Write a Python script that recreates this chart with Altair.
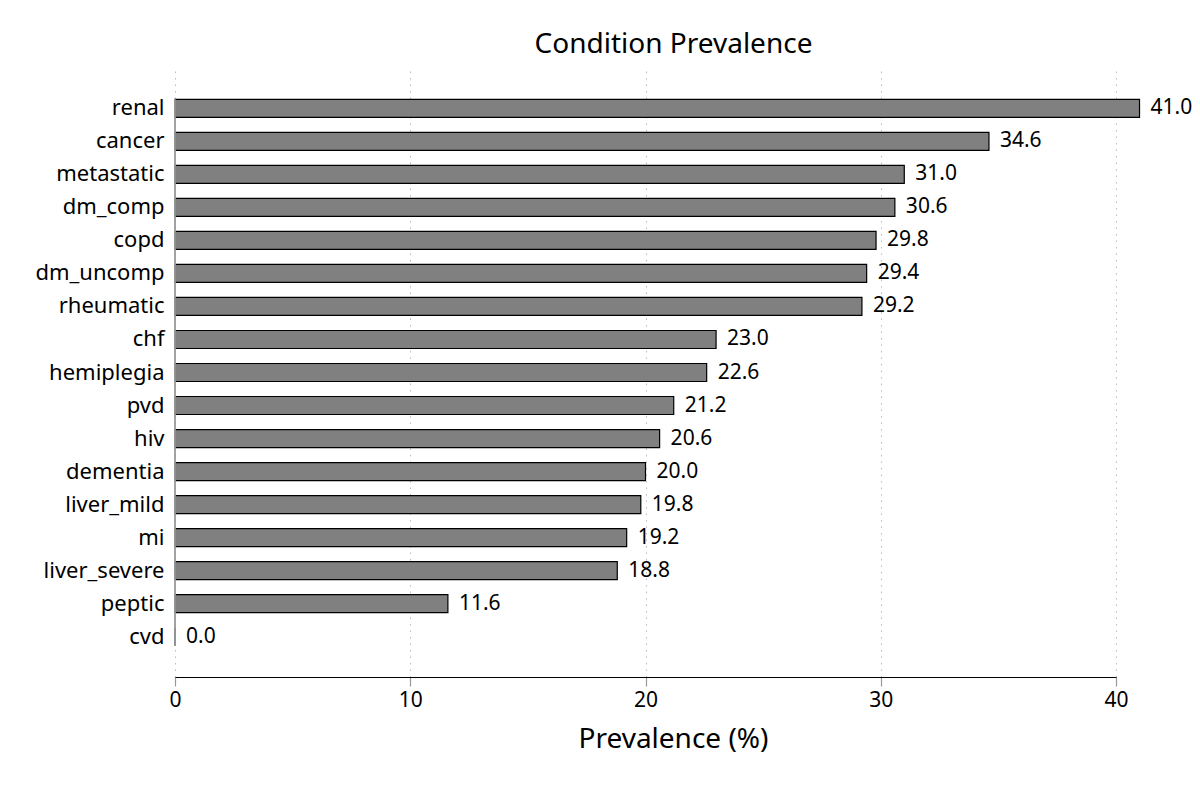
import altair as alt
import pandas as pd

conditions = ["renal", "cancer", "metastatic", "dm_comp", "copd", "dm_uncomp",
              "rheumatic", "chf", "hemiplegia", "pvd", "hiv", "dementia",
              "liver_mild", "mi", "liver_severe", "peptic", "cvd"]
prevalence = [41.0, 34.6, 31.0, 30.6, 29.8, 29.4, 29.2, 23.0, 22.6, 21.2,
              20.6, 20.0, 19.8, 19.2, 18.8, 11.6, 0.0]
x_ticks = [0, 10, 20, 30, 40]

df = pd.DataFrame({"condition": conditions, "prevalence": prevalence})
df["label"] = df["prevalence"].map(lambda v: f"{v:.1f}")

FONT = "Noto Sans"
W = 941

yscale = alt.Scale(domain=conditions, paddingInner=0.455, paddingOuter=0.95)
xscale = alt.Scale(domain=[0, 40], nice=False, clamp=False)

base = alt.Chart(df)

bars = base.mark_bar(fill="#808080", stroke="#000000", strokeWidth=1.2, clip=False).encode(
    x=alt.X("prevalence:Q", scale=xscale,
            axis=alt.Axis(title="Prevalence (%)", values=x_ticks, format="d",
                          grid=True, gridDash=[1.5, 5], gridColor="#bbbbbb", gridWidth=1,
                          domainColor="#000000", domainWidth=1.2,
                          tickColor="#999999", tickSize=9, tickWidth=1.2,
                          labelFont=FONT, labelFontSize=21, labelColor="#000000",
                          labelPadding=3, labelFlush=False,
                          titleFont=FONT, titleFontSize=28, titleFontWeight="normal",
                          titleColor="#000000", titlePadding=15, titleX=498)),
    y=alt.Y("condition:N", scale=yscale,
            axis=alt.Axis(title=None, domain=False, ticks=False, grid=False,
                          labelFont=FONT, labelFontSize=22, labelColor="#000000",
                          labelPadding=11)),
)

labels = base.mark_text(align="left", baseline="middle", dx=11, font=FONT,
                        fontSize=21, color="#000000", clip=False).encode(
    x=alt.X("prevalence:Q", scale=xscale),
    y=alt.Y("condition:N", scale=yscale),
    text="label:N",
)

spine_df = pd.DataFrame({"x": [0], "top": [conditions[0]], "bottom": [conditions[-1]]})
spine = alt.Chart(spine_df).mark_rule(color="#999999", strokeWidth=1.8).encode(
    x=alt.X("x:Q", scale=xscale),
    y=alt.Y("top:N", scale=yscale, bandPosition=0),
    y2=alt.Y2("bottom:N", bandPosition=1),
)

chart = alt.layer(bars, spine, labels).properties(
    width=W, height=609,
    title=alt.TitleParams("Condition Prevalence", font=FONT, fontSize=28,
                          fontWeight="normal", color="#000000", anchor="middle",
                          dx=28, offset=9),
    autosize=alt.AutoSizeParams(type="none"),
    padding={"left": 167, "top": 60, "right": 1192 - 8 - 167 - W, "bottom": 110},
).configure_view(stroke=None)

chart.save("out.html", embed_options={"renderer": "svg", "actions": False})
